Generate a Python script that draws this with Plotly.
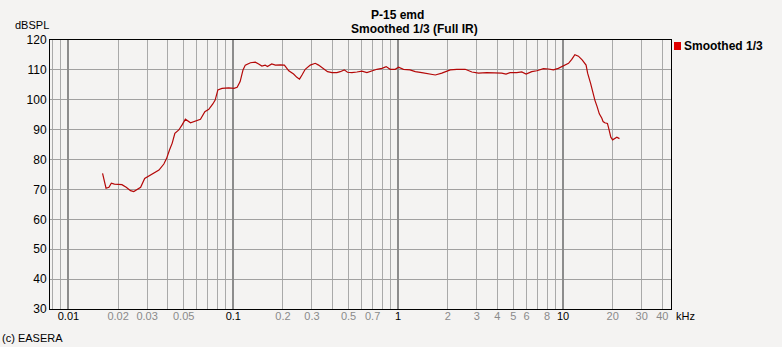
import plotly.graph_objects as go

# ---- data (frequency in kHz, level in dBSPL) ----
freq_khz = [0.0161, 0.0169, 0.0176, 0.0182, 0.0190, 0.0198, 0.0211, 0.0224, 0.0238, 0.0249,
            0.0261, 0.0274, 0.0290, 0.0307, 0.0330, 0.0354, 0.0379, 0.0394, 0.0410, 0.0426,
            0.0442, 0.0467, 0.0489, 0.0512, 0.0550, 0.0590, 0.0632, 0.0672, 0.0710, 0.0751,
            0.0776, 0.0806, 0.0854, 0.0937, 0.1010, 0.1055, 0.110, 0.1145, 0.1182, 0.127,
            0.136, 0.1425, 0.149, 0.156, 0.161, 0.171, 0.180, 0.193, 0.204, 0.217,
            0.232, 0.243, 0.252, 0.261, 0.273, 0.293, 0.314, 0.329, 0.353, 0.373,
            0.397, 0.425, 0.445, 0.471, 0.493, 0.524, 0.562, 0.603, 0.646, 0.693,
            0.743, 0.797, 0.846, 0.894, 0.959, 1.005, 1.077, 1.18, 1.27, 1.39,
            1.49, 1.68, 1.84, 2.07, 2.27, 2.55, 2.80, 3.07, 3.45, 3.87,
            4.25, 4.51, 4.77, 5.24, 5.62, 5.97, 6.46, 6.93, 7.61, 8.16,
            8.74, 9.36, 10.06, 10.8, 11.3, 11.8, 12.4, 13.1, 13.8, 14.1,
            14.7, 15.2, 15.6, 16.1, 16.6, 17.2, 17.5, 17.9, 18.6, 19.0,
            19.5, 20.0, 20.6, 21.2, 22.0]
level_db = [75.4, 70.4, 70.7, 72.1, 71.8, 71.8, 71.6, 70.7, 69.6, 69.3,
            70.1, 70.7, 73.7, 74.5, 75.4, 76.5, 78.5, 80.4, 83.2, 85.5,
            88.8, 89.9, 91.6, 93.5, 92.3, 93.0, 93.5, 96.0, 96.8, 98.6,
            99.9, 103.3, 103.8, 104.0, 103.8, 104.2, 106.1, 110.0, 111.6, 112.4,
            112.6, 112.0, 111.3, 111.6, 111.1, 112.0, 111.6, 111.7, 111.6, 109.7,
            108.6, 107.5, 106.9, 108.3, 110.2, 111.6, 112.2, 111.6, 110.5, 109.4,
            109.1, 109.1, 109.4, 110.0, 109.2, 109.1, 109.3, 109.6, 109.1, 109.7,
            110.2, 110.5, 111.1, 110.2, 110.2, 110.9, 110.2, 110.0, 109.4, 109.1,
            108.9, 108.3, 108.9, 110.0, 110.2, 110.2, 109.3, 108.9, 109.1, 109.1,
            108.9, 108.6, 109.1, 109.1, 109.3, 108.6, 109.4, 109.7, 110.4, 110.3,
            110.0, 110.5, 111.3, 112.2, 113.5, 115.1, 114.6, 113.3, 111.6, 108.9,
            105.5, 102.2, 99.9, 97.7, 95.3, 93.8, 92.7, 92.3, 92.1, 90.1,
            87.5, 86.6, 87.1, 87.5, 87.0]

series_name = "Smoothed 1/3"
title_line1 = "P-15 emd"
title_line2 = "Smoothed 1/3 (Full IR)"

grid_vals = [0.008, 0.009,
             0.01, 0.02, 0.03, 0.04, 0.05, 0.06, 0.07, 0.08, 0.09,
             0.1, 0.2, 0.3, 0.4, 0.5, 0.6, 0.7, 0.8, 0.9,
             1, 2, 3, 4, 5, 6, 7, 8, 9,
             10, 20, 30, 40]
label_map = {0.01: "0.01", 0.02: "0.02", 0.03: "0.03", 0.05: "0.05",
             0.1: "0.1", 0.2: "0.2", 0.3: "0.3", 0.5: "0.5", 0.7: "0.7",
             1: "1", 2: "2", 3: "3", 4: "4", 5: "5", 6: "6", 8: "8",
             10: "10", 20: "20", 30: "30", 40: "40"}
decades = [0.01, 0.1, 1, 10]
y_ticks = [30, 40, 50, 60, 70, 80, 90, 100, 110, 120]

# ---- layout geometry ----
W, H = 782, 347
L, R, T, B = 50, 671, 40, 309
PW, PH = R - L, B - T
BG = "#f4f3f2"
FONT = "Liberation Sans, Arial, sans-serif"


def px2x(px):
    return (px - L) / PW


def py2y(py):
    return (B - py) / PH


def tick_text(v):
    if v not in label_map:
        return ""
    t = label_map[v]
    if v in decades:
        return f"<span style='color:#000000'>{t}</span>"
    return f"<span style='color:#8a8a8a'>{t}</span>"


fig = go.Figure()
fig.add_trace(go.Scatter(x=freq_khz, y=level_db, mode="lines", name=series_name,
                         line=dict(color="#b40808", width=1.2), showlegend=False))
fig.add_trace(go.Scatter(x=[], y=[], xaxis="x2", yaxis="y", showlegend=False))

fig.update_layout(
    width=W, height=H,
    margin=dict(l=L, r=W - R, t=T, b=H - B, pad=0),
    paper_bgcolor=BG, plot_bgcolor=BG,
    font=dict(family=FONT, size=12, color="#000000"),
    xaxis=dict(type="log", range=[-2.112, 1.655], tickvals=grid_vals,
               ticktext=[tick_text(v) for v in grid_vals],
               showgrid=True, gridcolor="#a9a9a9", gridwidth=1,
               ticks="", tickfont=dict(size=11), ticklabelstandoff=-3,
               showline=True, linecolor="#000000", linewidth=1, mirror=True,
               zeroline=False),
    xaxis2=dict(type="log", range=[-2.112, 1.655], overlaying="x", anchor="y",
                tickvals=decades, showticklabels=False, ticks="",
                showgrid=True, gridcolor="#8c8c8c", gridwidth=2, zeroline=False),
    yaxis=dict(range=[30, 120], tickvals=y_ticks, showgrid=True,
               gridcolor="#a0a0a0", gridwidth=1, ticks="",
               tickfont=dict(size=12), zeroline=False,
               showline=True, linecolor="#000000", linewidth=1, mirror=True),
    annotations=[
        dict(text=f"<b>{title_line1}</b>", xref="paper", yref="paper",
             x=px2x(397), y=py2y(15), xanchor="center", yanchor="middle",
             showarrow=False, font=dict(size=12)),
        dict(text=f"<b>{title_line2}</b>", xref="paper", yref="paper",
             x=px2x(415), y=py2y(29), xanchor="center", yanchor="middle",
             showarrow=False, font=dict(size=12)),
        dict(text="dBSPL", xref="paper", yref="paper",
             x=px2x(13), y=py2y(25), xanchor="left", yanchor="middle",
             showarrow=False, font=dict(size=11)),
        dict(text="kHz", xref="paper", yref="paper",
             x=px2x(674), y=py2y(316), xanchor="left", yanchor="middle",
             showarrow=False, font=dict(size=11)),
        dict(text="(c) EASERA", xref="paper", yref="paper",
             x=px2x(0), y=py2y(338), xanchor="left", yanchor="middle",
             showarrow=False, font=dict(size=11)),
        dict(text=f"<b>{series_name}</b>", xref="paper", yref="paper",
             x=px2x(682), y=py2y(46), xanchor="left", yanchor="middle",
             showarrow=False, font=dict(size=12)),
    ],
    shapes=[
        dict(type="rect", xref="paper", yref="paper",
             x0=px2x(674), x1=px2x(681), y0=py2y(42), y1=py2y(50),
             fillcolor="#e00000", line=dict(width=0)),
    ],
)

fig.write_html("out.html")
